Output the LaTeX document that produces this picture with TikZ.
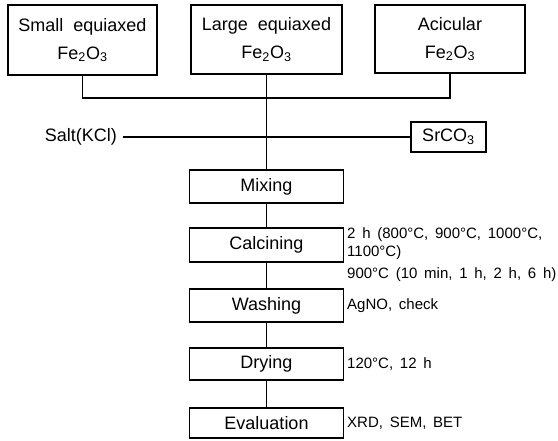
\documentclass[tikz,border=0pt]{standalone}
\usepackage{fontspec}
\setmainfont{Liberation Sans}
\newcommand{\widesp}{\spaceskip=0.45em plus 0.1em\relax}
\begin{document}
\begin{tikzpicture}[x=1pt,y=-1pt,
  box/.style={draw, line width=1.3pt, inner sep=0pt, align=center,
    font=\fontsize{18}{28}\selectfont},
  lbl/.style={inner sep=0pt, font=\fontsize{18}{22}\selectfont},
  note/.style={anchor=west, inner sep=0pt,
    font=\fontsize{15}{18}\selectfont},
  conn/.style={line width=1.2pt}]
\useasboundingbox (0,0) rectangle (558,441);
% top boxes
\node[box, minimum width=149pt, minimum height=70pt] (small) at (82.5,40) {Small\ \ equiaxed\\Fe\textsubscript{2}O\textsubscript{3}};
\node[box, minimum width=151pt, minimum height=69pt] (large) at (266.5,39.5) {Large\ \ equiaxed\\Fe\textsubscript{2}O\textsubscript{3}};
\node[box, minimum width=150pt, minimum height=68pt] (acic) at (450,39) {Acicular\\Fe\textsubscript{2}O\textsubscript{3}};
% salt and SrCO3
\node[lbl, anchor=east] (salt) at (117,137) {Salt(KCl)};
\node[box, minimum width=75pt, minimum height=30pt] (sr) at (448.5,137) {SrCO\textsubscript{3}};
% process boxes
\node[box, minimum width=154pt, minimum height=33pt] (mix) at (266.5,186.5) {Mixing};
\node[box, minimum width=154pt, minimum height=34pt] (calc) at (266.5,245) {Calcining};
\node[box, minimum width=154pt, minimum height=33pt] (wash) at (266.5,305.5) {Washing};
\node[box, minimum width=154pt, minimum height=32pt] (dry) at (266.5,364) {Drying};
\node[box, minimum width=154pt, minimum height=30pt] (eval) at (266.5,423) {Evaluation};
% notes
\node[note] (n1) at (347,235) {\widesp 2 h (800°C, 900°C, 1000°C,};
\node[note] (n2) at (347,253) {\widesp 1100°C)};
\node[note] (n3) at (347,275) {\widesp 900°C (10 min, 1 h, 2 h, 6 h)};
\node[note] (n4) at (347,305.5) {\widesp AgNO, check};
\node[note] (n5) at (347,364) {\widesp 120°C, 12 h};
\node[note] (n6) at (347,423) {\widesp XRD, SEM, BET};
% connectors
\coordinate (jl) at (82.5,98);
\draw[conn] (small.south) -- (jl) -| (acic.south);
\draw[conn] (large.south) -- (mix.north);
\draw[conn] ([xshift=6pt]salt.east) -- (sr.west);
\draw[conn] (mix.south) -- (calc.north);
\draw[conn] (calc.south) -- (wash.north);
\draw[conn] (wash.south) -- (dry.north);
\draw[conn] (dry.south) -- (eval.north);
\end{tikzpicture}
\end{document}
